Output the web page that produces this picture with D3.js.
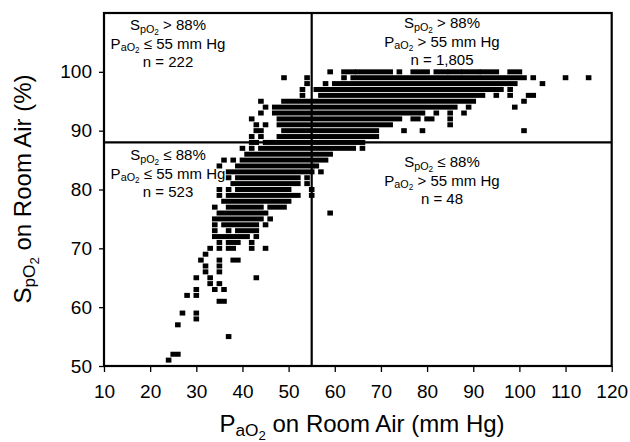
<!DOCTYPE html>
<html>
<head>
<meta charset="utf-8">
<script src="https://cdn.jsdelivr.net/npm/d3@7"></script>
<style>
  body { margin: 0; background: #fff; }
  text { font-family: "Liberation Sans", Arial, sans-serif; fill: #000; }
</style>
</head>
<body>
<svg id="chart" width="630" height="442"></svg>
<script>
// axis ticks and cut-offs
const xTicks = [10, 20, 30, 40, 50, 60, 70, 80, 90, 100, 110, 120];
const yTicks = [50, 60, 70, 80, 90, 100];
const paO2Cutoff = 55;
const spO2Cutoff = 88;

// quadrant counts: upper-left, upper-right, lower-left, lower-right
const quadrantCounts = [222, 1805, 523, 48];

// scatter: one SpO2 level per row, PaO2 runs [from, to] of adjacent points on that row
const spO2Levels = [100, 99, 98, 97, 96, 95, 94, 93, 92, 91, 90, 89, 88, 87, 86, 85, 84, 83, 82, 81,
  80, 79, 78, 77, 76, 75, 74, 73, 72, 71, 70, 69, 68, 67, 66, 65, 64, 63, 62, 61, 59, 58, 57, 55, 52, 51];
const paO2Runs = [
  [[59, 59], [62, 64], [65, 72], [74, 74], [77, 80], [82, 84], [85, 87], [88, 91], [92, 95], [98, 100]],
  [[49, 49], [54, 54], [62, 62], [64, 101], [103, 103], [110, 110], [115, 115]],
  [[54, 54], [58, 58], [60, 99], [105, 105]],
  [[53, 53], [56, 94], [95, 96], [98, 98]],
  [[53, 53], [57, 92], [95, 95], [98, 98], [102, 103]],
  [[44, 44], [49, 90], [101, 101]],
  [[45, 45], [47, 86], [89, 89], [99, 99]],
  [[44, 44], [47, 79], [82, 82], [85, 85], [88, 88]],
  [[42, 42], [48, 74], [77, 78], [80, 81], [85, 85]],
  [[43, 43], [45, 45], [48, 72], [85, 85]],
  [[43, 44], [49, 69], [75, 75], [79, 79], [101, 101]],
  [[42, 42], [44, 44], [48, 69]],
  [[42, 43], [45, 66]],
  [[40, 40], [42, 42], [44, 64], [66, 66]],
  [[41, 59]],
  [[36, 36], [38, 38], [40, 58]],
  [[35, 35], [39, 55], [56, 56]],
  [[37, 55], [57, 57]],
  [[37, 37], [39, 52], [54, 54]],
  [[38, 52], [54, 54]],
  [[35, 35], [37, 37], [39, 50], [55, 55]],
  [[35, 35], [37, 52], [55, 55]],
  [[36, 50]],
  [[34, 34], [37, 44], [46, 49]],
  [[35, 45], [59, 59]],
  [[34, 44], [46, 46]],
  [[34, 34], [36, 43], [45, 45]],
  [[34, 34], [37, 37], [39, 43]],
  [[34, 41], [43, 43]],
  [[35, 35], [37, 39], [42, 42]],
  [[33, 33], [35, 35], [37, 38], [42, 42], [45, 45]],
  [[32, 32]],
  [[31, 31], [35, 35], [38, 39]],
  [[32, 32], [35, 35]],
  [[32, 32], [35, 35]],
  [[30, 30], [33, 33], [43, 43]],
  [[33, 33], [35, 35]],
  [[30, 30], [34, 34], [36, 36]],
  [[28, 28], [30, 30]],
  [[35, 36]],
  [[27, 27], [30, 30]],
  [[30, 30]],
  [[26, 26]],
  [[37, 37]],
  [[25, 26]],
  [[24, 24]]
];

const svg = d3.select("#chart");
const x = d3.scaleLinear().domain([10, 120]).range([104, 611.7]);
const y = d3.scaleLinear().domain([50, 110]).range([366, 13]);

const markW = 5.6, markH = 5;

// adds text made of parts [string, level], level 1 = subscript, 2 = subscript of subscript
function richText(sel, parts, size) {
  let shift = 0;
  parts.forEach(([t, lvl]) => {
    const fs = lvl === 2 ? size * 0.55 : lvl === 1 ? size * 0.72 : size;
    const s = lvl === 2 ? size * 0.32 : lvl === 1 ? size * 0.18 : 0;
    sel.append("tspan").attr("font-size", fs).attr("dy", s - shift).text(t);
    shift = s;
  });
  return sel;
}

// scatter marks
const rows = svg.append("g").selectAll("g")
  .data(spO2Levels.map((s, i) => ({ s, runs: paO2Runs[i] })))
  .join("g");
rows.selectAll("rect")
  .data(d => d.runs.map(r => ({ s: d.s, from: r[0], to: r[1] })))
  .join("rect")
  .attr("x", d => x(d.from) - markW / 2)
  .attr("y", d => y(d.s) - markH / 2)
  .attr("width", d => x(d.to) - x(d.from) + markW)
  .attr("height", markH)
  .attr("fill", "#000");

// axes
const xAxis = svg.append("g").attr("transform", `translate(0,${y(50)})`)
  .call(d3.axisBottom(x).tickValues(xTicks).tickSize(6).tickPadding(13));
const yAxis = svg.append("g").attr("transform", `translate(${x(10)},0)`)
  .call(d3.axisLeft(y).tickValues(yTicks).tickSize(5).tickPadding(7));
[xAxis, yAxis].forEach(a => {
  a.select(".domain").remove();
  a.selectAll(".tick line").attr("stroke", "#000").attr("stroke-width", 1.3);
  a.selectAll(".tick text").attr("font-size", 19).attr("fill", "#000")
    .attr("font-family", '"Liberation Sans", Arial, sans-serif');
});

// frame and cut-off lines
const lines = svg.append("g").attr("stroke", "#000").attr("stroke-width", 2.2).attr("fill", "none");
lines.append("rect")
  .attr("x", x(10)).attr("y", y(110))
  .attr("width", x(120) - x(10)).attr("height", y(50) - y(110));
lines.append("line")
  .attr("x1", x(paO2Cutoff)).attr("x2", x(paO2Cutoff))
  .attr("y1", y(110)).attr("y2", y(50));
lines.append("line")
  .attr("x1", x(10)).attr("x2", x(120))
  .attr("y1", y(spO2Cutoff)).attr("y2", y(spO2Cutoff));

// quadrant labels
const fmt = d3.format(",");
const quadrants = [
  { cx: 168, top: 30, spo: " > ", pao: " ≤ ", n: quadrantCounts[0] },
  { cx: 442, top: 28, spo: " > ", pao: " > ", n: quadrantCounts[1] },
  { cx: 168, top: 160, spo: " ≤ ", pao: " ≤ ", n: quadrantCounts[2] },
  { cx: 442, top: 167, spo: " ≤ ", pao: " > ", n: quadrantCounts[3] }
];
quadrants.forEach(q => {
  const g = svg.append("g").attr("text-anchor", "middle");
  richText(g.append("text").attr("x", q.cx).attr("y", q.top),
    [["S", 0], ["pO", 1], ["2", 2], [q.spo + spO2Cutoff + "%", 0]], 15);
  richText(g.append("text").attr("x", q.cx).attr("y", q.top + 18.5),
    [["P", 0], ["aO", 1], ["2", 2], [q.pao + paO2Cutoff + " mm Hg", 0]], 15);
  g.append("text").attr("x", q.cx).attr("y", q.top + 36.5).attr("font-size", 15)
    .text("n = " + fmt(q.n));
});

// axis titles
richText(svg.append("text").attr("text-anchor", "middle")
  .attr("x", 362).attr("y", 432),
  [["P", 0], ["aO", 1], ["2", 2], [" on Room Air (mm Hg)", 0]], 24);
richText(svg.append("text").attr("text-anchor", "middle")
  .attr("transform", "translate(31,189) rotate(-90)"),
  [["S", 0], ["pO", 1], ["2", 2], [" on Room Air (%)", 0]], 24);
</script>
</body>
</html>
